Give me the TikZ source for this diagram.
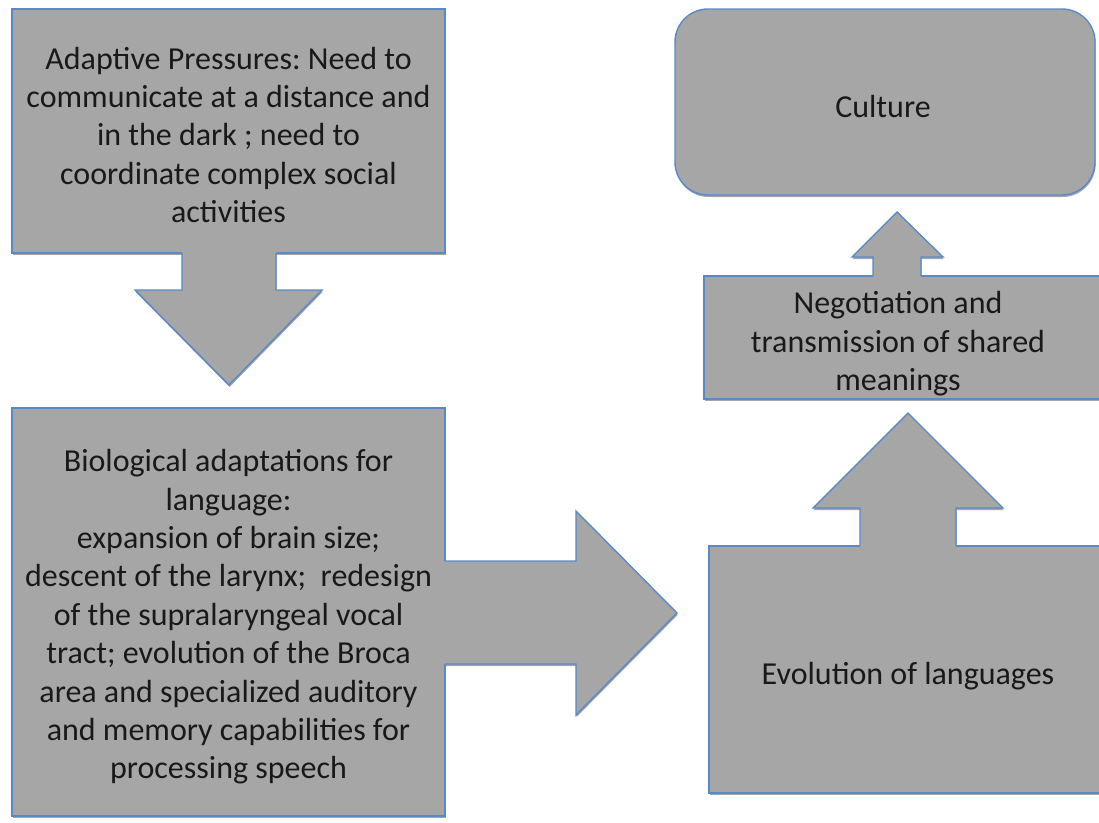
\documentclass[tikz,border=0pt]{standalone}
\usepackage{fontspec}
\setmainfont{Carlito}
\usetikzlibrary{shadows}
\definecolor{boxfill}{HTML}{A6A6A6}
\definecolor{boxline}{HTML}{5A8AC6}
\frenchspacing
\tikzset{
  shad/.style={drop shadow={shadow xshift=0.6pt,shadow yshift=-2pt,opacity=0.35,fill=black}},
  box/.style={draw=boxline,fill=boxfill,line width=1.4pt,inner sep=0pt,shad},
  txt/.style={inner sep=0pt,align=center,text=black!90,font=\fontsize{32}{38.4}\selectfont},
  afill/.style={fill=boxfill},
  aline/.style={draw=boxline,line width=1.4pt,line join=miter},
}
\begin{document}
\begin{tikzpicture}[x=1pt,y=-1pt]
\useasboundingbox (0,0) rectangle (1099,822);
% arrow shadows
\fill[afill,shad] (182,248) -- (276,248) -- (276,290) -- (322,290) -- (229,385) -- (135,290) -- (182,290) -- cycle;
\fill[afill,shad] (440,561) -- (576,561) -- (576,511) -- (677,613) -- (576,715) -- (576,664) -- (440,664) -- cycle;
\fill[afill,shad] (873,281) -- (873,257) -- (852,257) -- (897,212) -- (943,257) -- (921,257) -- (921,281) -- cycle;
\fill[afill,shad] (860,551) -- (860,508) -- (813,508) -- (908,413) -- (1003,508) -- (956,508) -- (956,551) -- cycle;
% boxes
\node[box,minimum width=433pt,minimum height=244pt] (adapt) at (228.5,131) {};
\node[box,minimum width=433pt,minimum height=408pt] (bio) at (228.5,612) {};
\node[box,rounded corners=33pt,minimum width=420pt,minimum height=186pt] (cult) at (885,102) {};
\node[box,minimum width=398pt,minimum height=123pt] (nego) at (903,337.5) {};
\node[box,minimum width=398pt,minimum height=247pt] (evo) at (908,669.5) {};
% texts
\node[txt] (adaptT) at ([yshift=-4pt]adapt.center)
  {Adaptive Pressures: Need to\\communicate at a distance and\\in the dark ; need to\\coordinate complex social\\activities};
\node[txt] (bioT) at ([yshift=-5pt]bio.center)
  {Biological adaptations for\\language:\\expansion of brain size;\\descent of the larynx;\ \ redesign\\of the supralaryngeal vocal\\tract; evolution of the Broca\\area and specialized auditory\\and memory capabilities for\\processing speech};
\node[txt] (cultT) at ([xshift=-2pt,yshift=-5pt]cult.center) {Culture};
\node[txt] (negoT) at ([xshift=-5pt,yshift=-6.5pt]nego.center) {Negotiation and\\transmission of shared\\meanings};
\node[txt] (evoT) at ([yshift=-7pt]evo.center) {Evolution of languages};
% arrow bodies
\fill[afill] (182,248) -- (276,248) -- (276,290) -- (322,290) -- (229,385) -- (135,290) -- (182,290) -- cycle;
\draw[aline] (182,253) -- (182,290) -- (135,290) -- (229,385) -- (322,290) -- (276,290) -- (276,253);
\fill[afill] (440,561) -- (576,561) -- (576,511) -- (677,613) -- (576,715) -- (576,664) -- (440,664) -- cycle;
\draw[aline] (445,561) -- (576,561) -- (576,511) -- (677,613) -- (576,715) -- (576,664) -- (445,664);
\fill[afill] (873,281) -- (873,257) -- (852,257) -- (897,212) -- (943,257) -- (921,257) -- (921,281) -- cycle;
\draw[aline] (873,276) -- (873,257) -- (852,257) -- (897,212) -- (943,257) -- (921,257) -- (921,276);
\fill[afill] (860,551) -- (860,508) -- (813,508) -- (908,413) -- (1003,508) -- (956,508) -- (956,551) -- cycle;
\draw[aline] (860,546) -- (860,508) -- (813,508) -- (908,413) -- (1003,508) -- (956,508) -- (956,546);
\end{tikzpicture}
\end{document}
